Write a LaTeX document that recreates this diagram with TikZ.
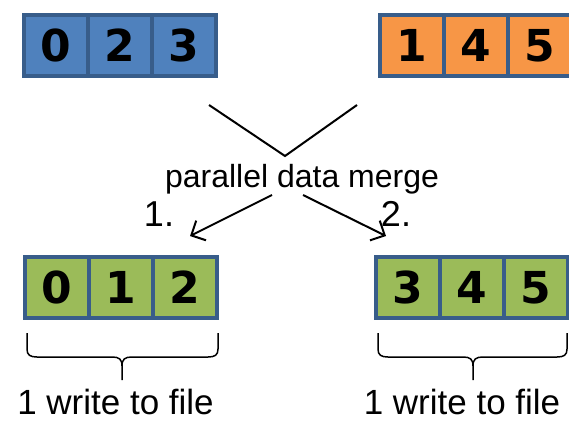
\documentclass[tikz,border=0pt]{standalone}
\usepackage{fontspec}
\setmainfont{Liberation Sans}
\newfontfamily\cellfont{DejaVu Sans}
\usetikzlibrary{arrows.meta}

\definecolor{cellborder}{HTML}{385D8A}
\definecolor{cellblue}{HTML}{4F81BD}
\definecolor{cellorange}{HTML}{F79646}
\definecolor{cellgreen}{HTML}{9BBB59}

\begin{document}
\begin{tikzpicture}[x=1pt,y=-1pt,line width=2pt,
  cell/.style={rectangle,draw=cellborder,line width=4pt,minimum width=64pt,minimum height=61pt,inner sep=0pt,font=\cellfont\bfseries\fontsize{44}{44}\selectfont},
      inA/.style={fill=cellblue},
      inB/.style={fill=cellorange},
      outC/.style={fill=cellgreen},
  caption/.style={anchor=base,inner sep=0pt,font=\fontsize{35}{35}\selectfont},
  mergetext/.style={anchor=base,inner sep=0pt,font=\fontsize{32}{32}\selectfont},
  flow/.style={-{Straight Barb[length=11pt,width=22pt,line width=2pt]}}]
\useasboundingbox (0,0) rectangle (569,422);

  \path
  % input arrays
  (56,45.5) node[cell,inA] (a0) {0}
  (120,45.5) node[cell,inA] (a1) {2}
  (184,45.5) node[cell,inA] (a2) {3}

  (412,45.5) node[cell,inB] (b0) {1}
  (476,45.5) node[cell,inB] (b1) {4}
  (540,45.5) node[cell,inB] (b2) {5}

  % merged output
  (57,287.5) node[cell,outC] (c0) {0}
  (121,287.5) node[cell,outC] (c1) {1}
  (185,287.5) node[cell,outC] (c2) {2}

  (408,287.5) node[cell,outC] (d0) {3}
  (472,287.5) node[cell,outC] (d1) {4}
  (536,287.5) node[cell,outC] (d2) {5}

  (302,187) node[mergetext] (merge) {parallel data merge}
  (159,226) node[mergetext,font=\fontsize{36}{36}\selectfont] (one) {1.}
  (396,226) node[mergetext,font=\fontsize{36}{36}\selectfont] (two) {2.}

  (115.5,414) node[caption] (wl) {1 write to file}
  (462,414) node[caption] (wr) {1 write to file}
  ;

  \coordinate (vl) at (209,105);
  \coordinate (vtip) at (285,156);
  \coordinate (vr) at (357,105);
  \coordinate (sl) at (272,195);
  \coordinate (sr) at (303,195);
  \coordinate (el) at (190,236);
  \coordinate (er) at (386,236);

  \draw (vl) -- (vtip) -- (vr);
  \draw[flow] (sl) -- (el);
  \draw[flow] (sr) -- (er);

  % braces
  \draw[line width=1.5pt] (27,333) -- (27,349) .. controls (27,355) and (30,357) .. (37,357) -- (112,357)
    .. controls (119,357) and (122,359) .. (122,366) -- (122,380)
    (122,366) .. controls (122,359) and (125,357) .. (132,357) -- (208,357)
    .. controls (215,357) and (218,355) .. (218,349) -- (218,333);
  \draw[line width=1.5pt] (378,333) -- (378,349) .. controls (378,355) and (381,357) .. (388,357) -- (463,357)
    .. controls (470,357) and (473,359) .. (473,366) -- (473,380)
    (473,366) .. controls (473,359) and (476,357) .. (483,357) -- (557,357)
    .. controls (564,357) and (567,355) .. (567,349) -- (567,333);
\end{tikzpicture}
\end{document}
